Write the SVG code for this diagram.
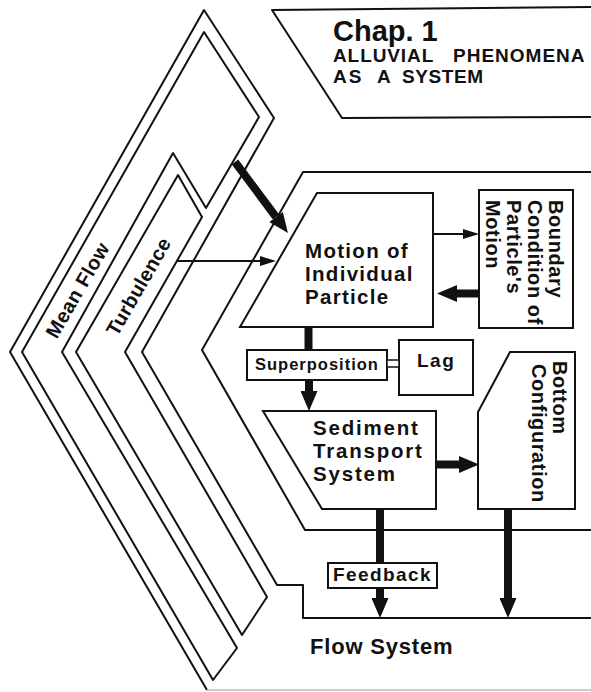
<svg xmlns="http://www.w3.org/2000/svg" width="591" height="692" viewBox="0 0 591 692">
<defs>
<style>
.ln{fill:none;stroke:#111;stroke-width:2;stroke-linejoin:round}
.bx{fill:#fff;stroke:#111;stroke-width:2;stroke-linejoin:miter}
.t{font-family:"Liberation Sans",Arial,Helvetica,sans-serif;font-weight:bold;fill:#111}
.thick{stroke:#111;stroke-width:8;fill:none}
.thin{stroke:#111;stroke-width:2;fill:none}
</style>
<marker id="hT" markerUnits="userSpaceOnUse" markerWidth="20" markerHeight="17" refX="0" refY="8.5" orient="auto"><path d="M0,0 L20,8.5 L0,17 z" fill="#111"/></marker>
<marker id="hS" markerUnits="userSpaceOnUse" markerWidth="16" markerHeight="10" refX="0" refY="5" orient="auto"><path d="M0,0 L16,5 L0,10 z" fill="#111"/></marker>
</defs>
<rect width="591" height="692" fill="#fff"/>

<g id="chap1">
<polyline class="ln" points="591,7 272,10 342,118 591,117"/>
<text class="t" x="333" y="41" font-size="29">Chap. 1</text>
<text class="t" x="333" y="62" font-size="19" letter-spacing="0.9">ALLUVIAL</text>
<text class="t" x="453" y="62" font-size="19" letter-spacing="1">PHENOMENA</text>
<text class="t" x="333" y="83" font-size="19" letter-spacing="2">AS</text>
<text class="t" x="377" y="83" font-size="19">A</text>
<text class="t" x="402" y="83" font-size="19" letter-spacing="0.6">SYSTEM</text>
</g>

<g id="flow-system">
<polyline class="ln" points="207,690 10,352 204,10 274,118 142,352 277,585 303,585 303,618 591,618"/>
<line x1="207" y1="690" x2="591" y2="690" stroke="#bbb" stroke-width="1.5"/>
<text class="t" x="310" y="654" font-size="22" letter-spacing="0.8">Flow System</text>
</g>

<g id="mean-flow">
<polygon class="ln" points="22,352 204,32 259,117 206,208 173,153 62,352 237,648 213,680"/>
<text class="t" font-size="20" text-anchor="middle" letter-spacing="0.5" transform="translate(83.5,293.5) rotate(-60)">Mean Flow</text>
</g>

<g id="turbulence">
<polygon class="ln" points="76,352 178,175 202,217 125,352 267,597 242,635"/>
<text class="t" font-size="20" text-anchor="middle" letter-spacing="0.3" transform="translate(144.5,290) rotate(-60)">Turbulence</text>
</g>

<g id="sediment-region">
<polyline class="ln" points="591,172 303,172 202,350 305,530 591,530"/>
</g>

<g id="motion">
<polygon class="bx" points="317,193 433,193 433,327 240,327"/>
<text class="t" font-size="20.5" letter-spacing="1.3"><tspan x="305" y="258">Motion of</tspan><tspan x="305" y="281">Individual</tspan><tspan x="305" y="304">Particle</tspan></text>
</g>

<g id="boundary">
<rect class="bx" x="479" y="190" width="94" height="138"/>
<g class="t" font-size="20" letter-spacing="0.6">
<text transform="translate(549,200) rotate(90)">Boundary</text>
<text transform="translate(528,200) rotate(90)">Condition of</text>
<text transform="translate(507,200) rotate(90)">Particle's</text>
<text transform="translate(486,200) rotate(90)">Motion</text>
</g>
</g>

<g id="superposition">
<rect class="bx" x="247" y="350" width="140" height="30"/>
<text class="t" x="255" y="370" font-size="16.5" letter-spacing="1">Superposition</text>
</g>

<g id="lag">
<rect class="bx" x="399" y="340" width="74" height="55"/>
<text class="t" x="417" y="367" font-size="19" letter-spacing="1.5">Lag</text>
</g>

<g id="sediment">
<polygon class="bx" points="263,411 436,411 436,509 322,509"/>
<text class="t" font-size="20.5" letter-spacing="1.8"><tspan x="313" y="435">Sediment</tspan><tspan x="313" y="458">Transport</tspan><tspan x="313" y="481">System</tspan></text>
</g>

<g id="bottom-config">
<polygon class="bx" points="510,352 575,352 575,509 478,509 478,412"/>
<g class="t" font-size="20" letter-spacing="0.6">
<text transform="translate(553,361) rotate(90)">Bottom</text>
<text transform="translate(532,364) rotate(90)">Configuration</text>
</g>
</g>

<g id="feedback">
<rect class="bx" x="328" y="563" width="109" height="25"/>
<text class="t" x="333" y="581" font-size="19" letter-spacing="1.4">Feedback</text>
</g>

<g id="connectors">
<line class="thick" x1="235" y1="162" x2="276" y2="217" marker-end="url(#hT)"/>
<line class="thin" x1="177" y1="261" x2="260" y2="261" stroke-width="1.6" marker-end="url(#hS)"/>
<line class="thin" x1="433" y1="234" x2="463" y2="234" marker-end="url(#hS)"/>
<line class="thick" x1="479" y1="293.5" x2="457" y2="293.5" stroke-width="7" marker-end="url(#hT)"/>
<line class="thick" x1="308.5" y1="327" x2="308.5" y2="350" stroke-width="7"/>
<rect x="387" y="360" width="12" height="7" fill="#fff" stroke="#111" stroke-width="1.5"/>
<line class="thick" x1="309" y1="380" x2="309" y2="391" marker-end="url(#hT)"/>
<line class="thick" x1="436" y1="464.5" x2="459" y2="464.5" stroke-width="7" marker-end="url(#hT)"/>
<line class="thick" x1="380" y1="509" x2="380" y2="563"/>
<line class="thick" x1="380" y1="588" x2="380" y2="598" marker-end="url(#hT)"/>
<line class="thick" x1="508" y1="509" x2="508" y2="598" stroke-width="9" marker-end="url(#hT)"/>
</g>
</svg>
